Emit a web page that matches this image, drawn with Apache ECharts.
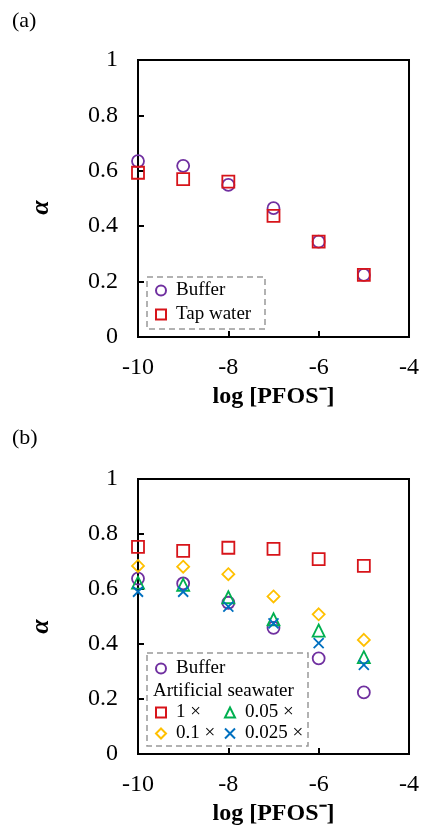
<!DOCTYPE html>
<html>
<head>
<meta charset="utf-8">
<script src="https://cdn.jsdelivr.net/npm/echarts@6/dist/echarts.min.js"></script>
<style>
  html, body { margin: 0; padding: 0; background: #fff; }
  #chart { width: 422px; height: 829px; }
</style>
</head>
<body>
<div id="chart"></div>
<script>
// log [PFOS-] values, same for every series
var logPfos = [-10, -9, -8, -7, -6, -5]

// panel (a)
var aBuffer = [0.635, 0.618, 0.549, 0.465, 0.344, 0.224]
var aTap = [0.593, 0.570, 0.561, 0.437, 0.344, 0.224]

// panel (b)
var bBuffer = [0.638, 0.620, 0.550, 0.459, 0.348, 0.224]
var bSea1 = [0.753, 0.739, 0.750, 0.746, 0.709, 0.684]
var bSea01 = [0.684, 0.681, 0.654, 0.573, 0.508, 0.415]
var bSea005 = [0.623, 0.615, 0.570, 0.490, 0.449, 0.352]
var bSea0025 = [0.590, 0.590, 0.536, 0.475, 0.403, 0.324]

var xTicks = [-10, -8, -6, -4]
var yTicks = [0, 0.2, 0.4, 0.6, 0.8, 1]

var serif = "'Liberation Serif', 'Times New Roman', serif"
var purple = '#7030A0', red = '#D7141A', orange = '#FFC000', green = '#00B050', blue = '#0070C0'
var crossPath = 'path://M0,0L10,10M10,0L0,10'

function pts (ys) {
  return logPfos.map(function (x, i) { return [x, ys[i]] })
}

function xAxisOf (idx) {
  return {
    type: 'value', gridIndex: idx,
    min: xTicks[0], max: xTicks[xTicks.length - 1], interval: 2,
    name: 'log [PFOS⁻]', nameLocation: 'middle', nameGap: 48,
    nameTextStyle: { fontFamily: serif, fontSize: 24, fontWeight: 'bold', color: '#000' },
    axisLine: { show: false },
    axisTick: { show: true, inside: true, length: 6, lineStyle: { color: '#000', width: 2 } },
    axisLabel: { fontFamily: serif, fontSize: 24, color: '#000', margin: 19 },
    splitLine: { show: false }
  }
}

function yAxisOf (idx, shift) {
  return {
    type: 'value', gridIndex: idx,
    min: yTicks[0], max: yTicks[yTicks.length - 1], interval: 0.2,
    name: 'α', nameLocation: 'middle', nameGap: 84, nameRotate: 90,
    nameTextStyle: { fontFamily: serif, fontSize: 26, fontWeight: 'bold', fontStyle: 'italic', color: '#000', padding: [0, shift, 0, 0] },
    axisLine: { show: false },
    axisTick: { show: true, inside: true, length: 6, lineStyle: { color: '#000', width: 2 } },
    axisLabel: { fontFamily: serif, fontSize: 24, color: '#000', margin: 20 },
    splitLine: { show: false }
  }
}

function sc (name, idx, data, symbol, color, size) {
  return {
    name: name, type: 'scatter', xAxisIndex: idx, yAxisIndex: idx,
    data: pts(data), symbol: symbol, symbolSize: size || 12,
    itemStyle: { color: 'transparent', borderColor: color, borderWidth: 1.8, opacity: 1 },
    emphasis: { disabled: true }
  }
}

var legendText = { fontFamily: serif, fontSize: 19, color: '#000', padding: [0, 0, 0, 5] }
function legendOf (names, left, top, gap) {
  return {
    data: names, orient: 'vertical', left: left, top: top,
    itemWidth: 10, itemHeight: 10, itemGap: gap, padding: 0,
    selectedMode: false, textStyle: legendText
  }
}

var option = {
  animation: false,
  grid: [
    { left: 138, top: 60, width: 274, height: 277, show: true, borderColor: '#000', borderWidth: 2, backgroundColor: 'transparent' },
    { left: 138, top: 479, width: 274, height: 275, show: true, borderColor: '#000', borderWidth: 2, backgroundColor: 'transparent' }
  ],
  xAxis: [xAxisOf(0), xAxisOf(1)],
  yAxis: [yAxisOf(0, 18), yAxisOf(1, 20)],
  legend: [
    legendOf(['Buffer', 'Tap water'], 155, 281, 5),
    legendOf(['Buffer'], 155, 659, 2),
    legendOf(['1 ×', '0.1 ×'], 155, 703, 2),
    legendOf(['0.05 ×', '0.025 ×'], 224, 703, 2)
  ],
  graphic: [
    { type: 'text', left: 12, top: 10, style: { text: '(a)', font: '22px ' + serif, fill: '#000' } },
    { type: 'text', left: 12, top: 427, style: { text: '(b)', font: '22px ' + serif, fill: '#000' } },
    { type: 'rect', shape: { x: 147, y: 277, width: 118, height: 52 },
      style: { fill: 'none', stroke: '#999', lineWidth: 1.5, lineDash: [6, 4] }, z: 10 },
    { type: 'rect', shape: { x: 147, y: 653, width: 161, height: 93 },
      style: { fill: 'none', stroke: '#999', lineWidth: 1.5, lineDash: [6, 4] }, z: 10 },
    { type: 'text', left: 153, top: 682, style: { text: 'Artificial seawater', font: '19px ' + serif, fill: '#000' } }
  ],
  series: [
    sc('Buffer', 0, aBuffer, 'circle', purple),
    sc('Tap water', 0, aTap, 'rect', red),
    sc('Buffer', 1, bBuffer, 'circle', purple),
    sc('1 ×', 1, bSea1, 'rect', red),
    sc('0.1 ×', 1, bSea01, 'diamond', orange, 12),
    sc('0.05 ×', 1, bSea005, 'triangle', green),
    sc('0.025 ×', 1, bSea0025, crossPath, blue, 10)
  ]
}

var chart = echarts.init(document.getElementById('chart'))
chart.setOption(option)
</script>
</body>
</html>
